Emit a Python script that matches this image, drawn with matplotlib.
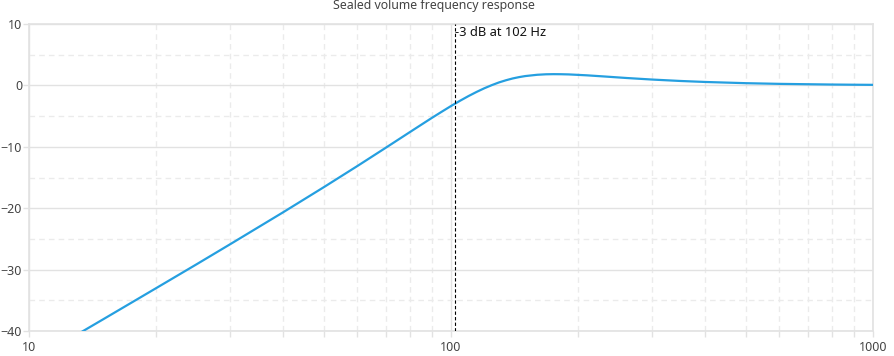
import matplotlib
matplotlib.use("Agg")
import matplotlib.pyplot as plt
from matplotlib.ticker import LogLocator, FixedLocator, FixedFormatter, NullFormatter, MultipleLocator

plt.rcParams['font.family'] = ['Noto Sans', 'DejaVu Sans']

# === Data ===
freq_hz = [13.4, 15, 20, 25, 30, 40, 50, 60, 70, 80, 85, 90, 95, 100, 105,
           110, 115, 120, 125, 130, 135, 140, 145, 150, 160, 168, 175, 182,
           190, 210, 230, 260, 300, 350, 400, 500, 600, 700, 800, 900, 1000]
level_db = [-40.05, -38.08, -33.03, -29.10, -25.85, -20.67, -16.56, -13.13,
            -10.17, -7.58, -6.41, -5.31, -4.30, -3.36, -2.51, -1.74, -1.06,
            -0.46, 0.05, 0.49, 0.84, 1.13, 1.35, 1.52, 1.73, 1.81, 1.83, 1.82,
            1.79, 1.64, 1.46, 1.21, 0.95, 0.72, 0.56, 0.36, 0.25, 0.19, 0.14,
            0.11, 0.09]
f3_hz = 102
f3_label = "-3 dB at 102 Hz"
title = "Sealed volume frequency response"
x_ticks = [10, 100, 1000]
y_ticks = [-40, -30, -20, -10, 0, 10]

grid_major = '#e2e2e2'
grid_minor = '#ebebeb'
text_col = '#444444'

fig = plt.figure(figsize=(8.95, 3.56), dpi=100)
ax = fig.add_axes([29 / 895, 1 - 331 / 356, 844 / 895, 307 / 356])

ax.plot(freq_hz, level_db, color='#259fe0', lw=1.6, zorder=3)
ax.axvline(f3_hz, color='black', lw=0.8, ls=(0, (3, 2)), zorder=4)
ax.text(f3_hz, 9.6, f3_label, ha='left', va='top', fontsize=9.3,
        color='#111111', zorder=5)

ax.set_xscale('log')
ax.set_xlim(10, 1000)
ax.set_ylim(-40, 10)

ax.xaxis.set_major_locator(FixedLocator(x_ticks))
ax.xaxis.set_major_formatter(FixedFormatter([str(t) for t in x_ticks]))
ax.xaxis.set_minor_locator(LogLocator(base=10, subs=range(2, 10)))
ax.xaxis.set_minor_formatter(NullFormatter())
ax.yaxis.set_major_locator(FixedLocator(y_ticks))
ax.yaxis.set_minor_locator(MultipleLocator(5))

ax.grid(which='major', color=grid_major, lw=1, ls='-')
ax.grid(which='minor', color=grid_minor, lw=1, ls=(0, (4, 3)))
ax.set_axisbelow(True)

for s in ax.spines.values():
    s.set_color(grid_major)
    s.set_linewidth(1.2)

ax.tick_params(which='both', color=grid_major, labelcolor=text_col,
               labelsize=9, length=4, width=1)
ax.tick_params(axis='y', which='minor', length=0)
ax.tick_params(axis='y', pad=1)
ax.tick_params(axis='x', pad=3)

fig.text(434 / 895, 1 - 6 / 356, title, ha='center', va='center', fontsize=8.9,
         color=text_col)

fig.savefig('out.png', dpi=100)
